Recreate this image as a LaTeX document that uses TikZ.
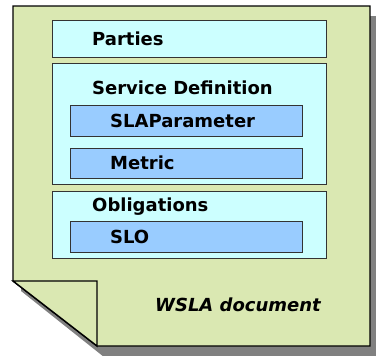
\documentclass[tikz,border=0pt]{standalone}
\usepackage{fontspec}
\setmainfont{DejaVu Sans}
\definecolor{docgreen}{HTML}{DAE8B2}
\definecolor{partcyan}{HTML}{CCFFFF}
\definecolor{itemblue}{HTML}{99CCFF}
\tikzset{
  part/.style={draw=black!80, fill=partcyan, line width=0.8pt, anchor=north west, inner sep=0pt},
  item/.style={draw=black!80, fill=itemblue, line width=0.8pt, anchor=north west, inner sep=0pt},
  lbl/.style={anchor=west, inner sep=0pt, font=\fontsize{18}{20}\selectfont\bfseries}
}
\begin{document}
\begin{tikzpicture}[x=1pt, y=-1pt]
 \useasboundingbox (0,0) rectangle (376,356);

 % shadow
 \fill[black!50] (21,16) -- (377,16) -- (377,357) -- (104,357) -- (21,291) -- cycle;

 % the document with its folded corner
 \draw[fill=docgreen, line width=1.4pt] (13,6) -- (370,6) -- (370,346) -- (97,346) -- (13,281) -- cycle;
 \draw[fill=docgreen, line width=1.4pt] (13,281) -- (97,281) -- (97,346) -- cycle;

 % parts
 \node[part, minimum width=274pt, minimum height=37pt] (parties) at (52,20) {};
 \node[part, minimum width=274pt, minimum height=121pt] (servdef) at (52,63) {};
 \node[part, minimum width=274pt, minimum height=67pt] (oblig) at (52,191) {};

 \node[item, minimum width=232pt, minimum height=31pt] (slaparam) at (70,105) {};
 \node[item, minimum width=232pt, minimum height=30pt] (metric) at (70,148) {};
 \node[item, minimum width=232pt, minimum height=31pt] (slo) at (70,221) {};

 % labels
 \node[lbl] (tparties) at (92,39) {Parties};
 \node[lbl] (tservdef) at (92,88) {Service Definition};
 \node[lbl] (tslaparam) at (110,121) {SLAParameter};
 \node[lbl] (tmetric) at (110,163) {Metric};
 \node[lbl] (toblig) at (92,207) {Obligations};
 \node[lbl] (tslo) at (110,237) {SLO};
 \node[lbl, font=\fontsize{18}{20}\selectfont\bfseries\itshape] (tdoc) at (155,305) {WSLA document};
\end{tikzpicture}
\end{document}
